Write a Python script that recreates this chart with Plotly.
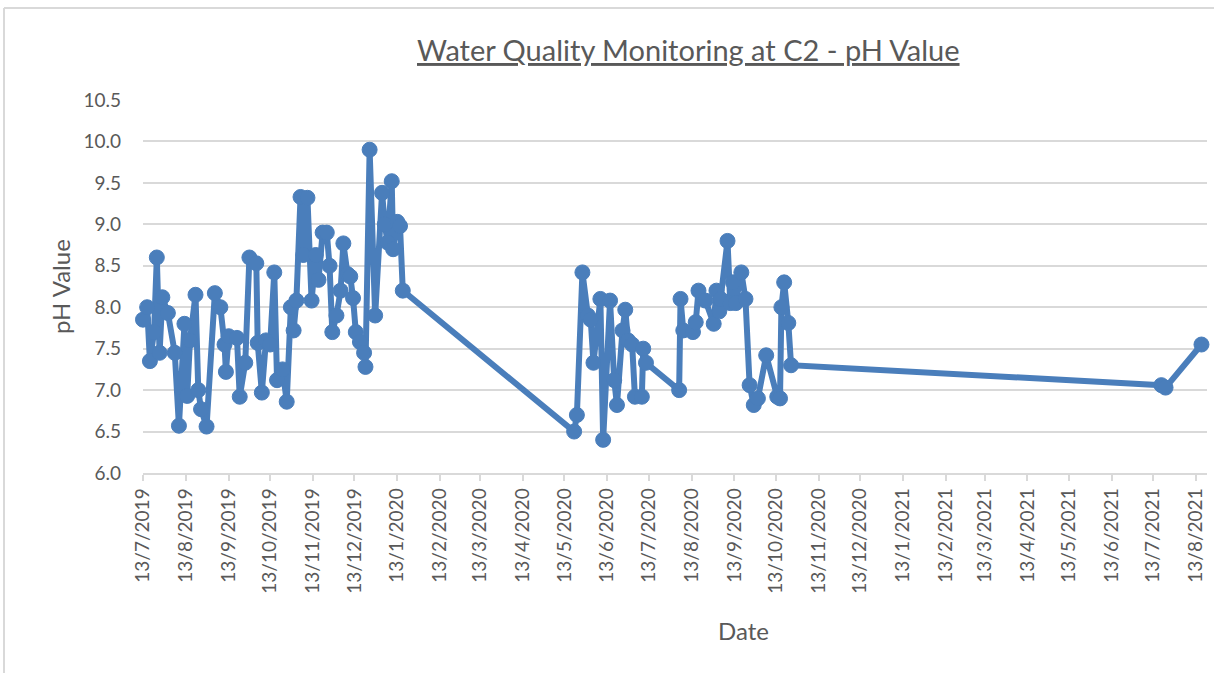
import plotly.graph_objects as go
import pandas as pd

# pH readings at monitoring station C2
sample_dates = [
    "2019-07-13", "2019-07-16", "2019-07-18", "2019-07-21", "2019-07-23", "2019-07-25",
    "2019-07-27", "2019-07-31", "2019-08-05", "2019-08-08", "2019-08-12", "2019-08-14",
    "2019-08-16", "2019-08-20", "2019-08-22", "2019-08-24", "2019-08-28", "2019-09-03",
    "2019-09-07", "2019-09-10", "2019-09-11", "2019-09-13", "2019-09-19", "2019-09-21",
    "2019-09-25", "2019-09-28", "2019-10-03", "2019-10-04", "2019-10-07", "2019-10-10",
    "2019-10-13", "2019-10-16", "2019-10-18", "2019-10-22", "2019-10-25", "2019-10-28",
    "2019-10-30", "2019-11-01", "2019-11-04", "2019-11-06", "2019-11-09", "2019-11-12",
    "2019-11-15", "2019-11-17", "2019-11-20", "2019-11-23", "2019-11-25", "2019-11-27",
    "2019-11-30", "2019-12-03", "2019-12-05", "2019-12-08", "2019-12-10", "2019-12-12",
    "2019-12-14", "2019-12-17", "2019-12-20", "2019-12-21", "2019-12-24", "2019-12-28",
    "2020-01-02", "2020-01-04", "2020-01-06", "2020-01-09", "2020-01-10", "2020-01-13",
    "2020-01-15", "2020-01-17",
    "2020-05-20", "2020-05-22", "2020-05-26", "2020-05-30", "2020-06-01", "2020-06-03",
    "2020-06-08", "2020-06-10", "2020-06-15", "2020-06-18", "2020-06-20", "2020-06-24",
    "2020-06-26", "2020-06-28", "2020-07-01", "2020-07-03", "2020-07-08", "2020-07-09",
    "2020-07-11", "2020-08-04", "2020-08-05", "2020-08-07", "2020-08-14", "2020-08-16",
    "2020-08-18", "2020-08-23", "2020-08-29", "2020-08-31", "2020-09-02", "2020-09-03",
    "2020-09-08", "2020-09-10", "2020-09-12", "2020-09-14", "2020-09-18", "2020-09-21",
    "2020-09-24", "2020-09-27", "2020-09-30", "2020-10-06", "2020-10-14", "2020-10-16",
    "2020-10-17", "2020-10-19", "2020-10-22", "2020-10-24",
    "2021-07-19", "2021-07-22", "2021-08-17",
]

ph_values = [
    7.85, 8.00, 7.35, 7.70, 8.60, 7.45,
    8.12, 7.93, 7.45, 6.57, 7.80, 6.93,
    7.60, 8.15, 7.00, 6.77, 6.56, 8.17,
    8.00, 7.55, 7.22, 7.65, 7.63, 6.92,
    7.33, 8.60, 8.53, 7.57, 6.97, 7.60,
    7.55, 8.42, 7.12, 7.25, 6.86, 8.00,
    7.72, 8.08, 9.33, 8.63, 9.32, 8.08,
    8.63, 8.33, 8.90, 8.90, 8.50, 7.70,
    7.90, 8.20, 8.77, 8.40, 8.37, 8.11,
    7.70, 7.58, 7.45, 7.28, 9.90, 7.90,
    9.38, 9.00, 8.78, 9.52, 8.70, 9.03,
    8.98, 8.20,
    6.50, 6.70, 8.42, 7.90, 7.85, 7.33,
    8.10, 6.40, 8.08, 7.12, 6.82, 7.72,
    7.97, 7.60, 7.55, 6.92, 6.92, 7.50,
    7.33, 7.00, 8.10, 7.72, 7.70, 7.82,
    8.20, 8.08, 7.80, 8.20, 7.95, 8.10,
    8.80, 8.05, 8.30, 8.05, 8.42, 8.10,
    7.06, 6.82, 6.90, 7.42, 6.92, 6.90,
    8.00, 8.30, 7.81, 7.30,
    7.06, 7.03, 7.55,
]

# Monthly date-axis labels
x_tick_labels = [
    "13/7/2019", "13/8/2019", "13/9/2019", "13/10/2019", "13/11/2019", "13/12/2019",
    "13/1/2020", "13/2/2020", "13/3/2020", "13/4/2020", "13/5/2020", "13/6/2020",
    "13/7/2020", "13/8/2020", "13/9/2020", "13/10/2020", "13/11/2020", "13/12/2020",
    "13/1/2021", "13/2/2021", "13/3/2021", "13/4/2021", "13/5/2021", "13/6/2021",
    "13/7/2021", "13/8/2021",
]
x_tick_vals = [pd.to_datetime(s, format="%d/%m/%Y").strftime("%Y-%m-%d") for s in x_tick_labels]

y_tick_vals = [6.0, 6.5, 7.0, 7.5, 8.0, 8.5, 9.0, 9.5, 10.0, 10.5]

W, H = 1214, 673
L, R, T, B = 143, 1207, 100, 473
FONT = "Lato"
GREY = "#595959"
BLUE = "#4a7ebb"


def px(x):
    return (x - L) / (R - L)


def py(y):
    return (B - y) / (B - T)


fig = go.Figure()
fig.add_trace(go.Scatter(
    x=sample_dates,
    y=ph_values,
    mode="lines+markers",
    line=dict(color=BLUE, width=6),
    marker=dict(color=BLUE, size=15, line=dict(color=BLUE, width=1)),
    cliponaxis=False,
    showlegend=False,
))

fig.update_layout(
    width=W,
    height=H,
    margin=dict(l=L, r=W - R, t=T, b=H - B, pad=0),
    paper_bgcolor="white",
    plot_bgcolor="white",
    font=dict(family=FONT, color=GREY, size=19),
    xaxis=dict(
        type="date",
        range=["2019-07-13", "2021-08-21"],
        tickvals=x_tick_vals,
        ticktext=x_tick_labels,
        tickangle=-90,
        tickfont=dict(family=FONT, size=19, color=GREY),
        showgrid=False,
        showline=True,
        linecolor="#d9d9d9",
        linewidth=1.5,
        ticks="outside",
        ticklen=6,
        tickcolor="#d9d9d9",
        tickwidth=1.5,
        zeroline=False,
    ),
    yaxis=dict(
        range=[6.0, 10.5],
        tickvals=y_tick_vals,
        tickformat=".1f",
        tickfont=dict(family=FONT, size=19, color=GREY),
        showgrid=True,
        gridcolor="#d9d9d9",
        gridwidth=1.5,
        showline=False,
        ticks="",
        ticklabelstandoff=21,
        zeroline=False,
    ),
    annotations=[
        dict(text="<u>Water Quality Monitoring at C2 - pH Value</u>",
             xref="paper", yref="paper", x=px(688), y=py(50),
             xanchor="center", yanchor="middle", showarrow=False,
             font=dict(family=FONT, size=29, color=GREY)),
        dict(text="pH Value", xref="paper", yref="paper", x=px(60), y=py(287),
             xanchor="center", yanchor="middle", textangle=-90, showarrow=False,
             font=dict(family=FONT, size=24, color=GREY)),
        dict(text="Date", xref="paper", yref="paper", x=px(743), y=py(630),
             xanchor="center", yanchor="middle", showarrow=False,
             font=dict(family=FONT, size=24, color=GREY)),
    ],
    shapes=[
        dict(type="line", xref="paper", yref="paper", x0=px(4), x1=px(1240),
             y0=py(8), y1=py(8), line=dict(color="#d9d9d9", width=2)),
        dict(type="line", xref="paper", yref="paper", x0=px(4), x1=px(4),
             y0=py(8), y1=py(700), line=dict(color="#d9d9d9", width=2)),
    ],
)

fig.write_html("out.html")
